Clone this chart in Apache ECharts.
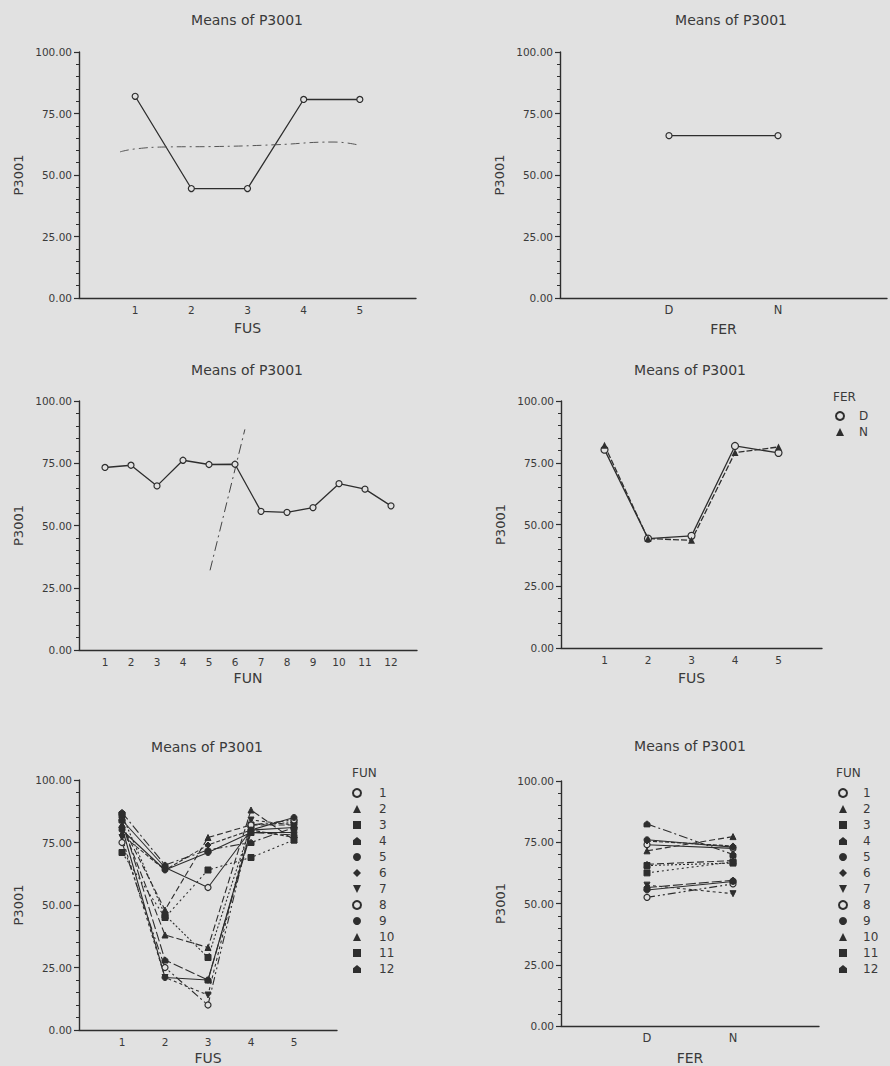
<!DOCTYPE html>
<html>
<head>
<meta charset="utf-8">
<title>Means of P3001</title>
<script src="https://cdn.jsdelivr.net/npm/echarts@6/dist/echarts.min.js"></script>
<style>
  html, body { margin: 0; padding: 0; background: #e1e1e1; }
  #chart { width: 890px; height: 1066px; }
</style>
</head>
<body>
<div id="chart"></div>
<script>
// ---- data ----
const fusLevels = [1, 2, 3, 4, 5];
const ferLevels = ['D', 'N'];
const funLevels = [1, 2, 3, 4, 5, 6, 7, 8, 9, 10, 11, 12];

// means of P3001 by FUS
const meansByFus = [82.0, 44.5, 44.5, 80.7, 80.7];
// means of P3001 by FER
const meansByFer = [66.0, 66.0];
// means of P3001 by FUN
const meansByFun = [73.3, 74.2, 65.9, 76.2, 74.5, 74.6, 55.7, 55.3, 57.2, 66.8, 64.6, 57.9];

// FUS x FER
const fusMeansFerD = [80.3, 44.3, 45.4, 81.8, 79.0];
const fusMeansFerN = [82.1, 44.3, 43.6, 79.1, 81.4];

// FUS x FUN (one row per FUN level, values at FUS 1..5)
const fusMeansByFun = [
  [84, 65, 57, 80, 81],
  [82, 48, 77, 82, 82],
  [86, 46, 29, 82, 83],
  [87, 66, 72, 75, 81],
  [80, 64, 71, 79, 79],
  [78, 64, 74, 80, 77],
  [77, 21, 14, 84, 82],
  [75, 25, 10, 82, 84],
  [81, 21, 20, 80, 85],
  [82, 38, 33, 88, 76],
  [71, 45, 64, 69, 76],
  [84, 28, 20, 79, 78]
];

// FER x FUN (one row per FUN level, values at D, N)
const ferMeansByFun = [
  [74.0, 72.5],
  [71.5, 77.3],
  [65.5, 66.5],
  [82.5, 70.0],
  [76.0, 73.0],
  [75.5, 73.5],
  [57.5, 54.0],
  [52.5, 58.0],
  [55.5, 59.0],
  [66.0, 67.5],
  [62.5, 67.0],
  [56.5, 59.5]
];

// hand-drawn strokes on the printed sheet: [x position, P3001]
const penStrokeTop = [[0.73, 59.4], [1.0, 60.6], [1.56, 61.4], [2.5, 61.6], [3.5, 62.3], [4.54, 63.4], [4.99, 62.1]];
const penStrokeMid = [[5.04, 32], [6.38, 88.6]];

// ---- styling ----
const BG = '#e1e1e1';
const INK = '#2e2e2e';
const TXT = '#3a3a3a';
const FONT = '"DejaVu Sans", sans-serif';

const funSymbols = [
  'circle', 'triangle', 'rect',
  'path://M5,0 L10,4 L10,10 L0,10 L0,4 Z',
  'circle', 'diamond',
  'path://M0,0 L10,0 L5,10 Z',
  'circle', 'circle', 'triangle', 'rect',
  'path://M5,0 L10,4 L10,10 L0,10 L0,4 Z'
];
const funOpen = [true, false, false, false, false, false, false, true, false, false, false, false];
const funDash = ['solid', [6, 3], [2, 2], [9, 3, 2, 3], 'solid', [4, 2], [3, 3], [8, 3, 2, 3, 2, 3], 'solid', [7, 3], [2, 3], [10, 3]];

const grids = [
  { left: 79, top: 52, width: 337, height: 246 },
  { left: 560, top: 52, width: 345, height: 246 },
  { left: 79, top: 401, width: 338, height: 249 },
  { left: 561, top: 401, width: 261, height: 247 },
  { left: 79, top: 780, width: 258, height: 252 },
  { left: 561, top: 781, width: 258, height: 247 }
];

function yAxisCfg(i) {
  return {
    gridIndex: i, type: 'value', min: 0, max: 100, interval: 25,
    name: 'P3001', nameLocation: 'middle', nameRotate: 90, nameGap: 54,
    nameTextStyle: { fontFamily: FONT, fontSize: 13, color: TXT },
    axisLine: { show: true, lineStyle: { color: INK, width: 1.4 } },
    axisTick: { show: true, length: 5, lineStyle: { color: INK, width: 1.2 } },
    minorTick: { show: true, splitNumber: 5, length: 3, lineStyle: { color: INK, width: 1 } },
    splitLine: { show: false },
    axisLabel: { margin: 7, fontFamily: FONT, fontSize: 10.5, color: TXT, formatter: v => v.toFixed(2) }
  };
}

function xAxisCfg(i, max, labelOf, name, gap, labelSize) {
  return {
    gridIndex: i, type: 'value', min: 0, max: max, interval: 1,
    name: name, nameLocation: 'middle', nameGap: gap,
    nameTextStyle: { fontFamily: FONT, fontSize: 14, color: TXT },
    axisLine: { show: true, onZero: false, lineStyle: { color: INK, width: 1.4 } },
    axisTick: { show: false },
    splitLine: { show: false },
    axisLabel: { margin: 6, fontFamily: FONT, fontSize: labelSize || 10.5, color: TXT, formatter: labelOf, showMinLabel: true, showMaxLabel: true }
  };
}

const numLabel = levels => v => (levels.indexOf(v) >= 0 ? String(v) : '');
const ferLabel = v => (v >= 1 && v <= ferLevels.length ? ferLevels[v - 1] : '');

function pairs(xs, ys) { return xs.map((x, k) => [x, ys[k]]); }

function openMarker() {
  return { color: BG, borderColor: INK, borderWidth: 1.2 };
}

const series = [];

// 1: by FUS
series.push({
  name: 'FUS', type: 'line', xAxisIndex: 0, yAxisIndex: 0,
  data: pairs(fusLevels, meansByFus), symbol: 'circle', symbolSize: 6,
  itemStyle: openMarker(), lineStyle: { color: INK, width: 1.3 }
});
series.push({
  name: 'stroke-a', type: 'line', xAxisIndex: 0, yAxisIndex: 0, smooth: true,
  data: penStrokeTop, symbol: 'none',
  lineStyle: { color: '#555', width: 1, type: [9, 4, 2, 4] }
});

// 2: by FER
series.push({
  name: 'FER', type: 'line', xAxisIndex: 1, yAxisIndex: 1,
  data: pairs([1, 2], meansByFer), symbol: 'circle', symbolSize: 6,
  itemStyle: openMarker(), lineStyle: { color: INK, width: 1.3 }
});

// 3: by FUN
series.push({
  name: 'FUN', type: 'line', xAxisIndex: 2, yAxisIndex: 2,
  data: pairs(funLevels, meansByFun), symbol: 'circle', symbolSize: 6,
  itemStyle: openMarker(), lineStyle: { color: INK, width: 1.3 }
});
series.push({
  name: 'stroke-b', type: 'line', xAxisIndex: 2, yAxisIndex: 2,
  data: penStrokeMid, symbol: 'none',
  lineStyle: { color: '#444', width: 1, type: [10, 4, 2, 4] }
});

// 4: FUS x FER
series.push({
  name: 'D', type: 'line', xAxisIndex: 3, yAxisIndex: 3,
  data: pairs(fusLevels, fusMeansFerD), symbol: 'circle', symbolSize: 7,
  itemStyle: openMarker(), lineStyle: { color: INK, width: 1.3 }
});
series.push({
  name: 'N', type: 'line', xAxisIndex: 3, yAxisIndex: 3,
  data: pairs(fusLevels, fusMeansFerN), symbol: 'triangle', symbolSize: 7,
  itemStyle: { color: INK }, lineStyle: { color: INK, width: 1.3, type: [6, 2] }
});

// 5: FUS x FUN, 6: FER x FUN
funLevels.forEach((f, k) => {
  const style = funOpen[k] ? openMarker() : { color: INK, borderColor: INK };
  series.push({
    name: String(f), type: 'line', xAxisIndex: 4, yAxisIndex: 4,
    data: pairs(fusLevels, fusMeansByFun[k]), symbol: funSymbols[k], symbolSize: 6,
    itemStyle: style, lineStyle: { color: INK, width: 1.1, type: funDash[k] }
  });
});
funLevels.forEach((f, k) => {
  const style = funOpen[k] ? openMarker() : { color: INK, borderColor: INK };
  series.push({
    name: String(f), type: 'line', xAxisIndex: 5, yAxisIndex: 5,
    data: pairs([1, 2], ferMeansByFun[k]), symbol: funSymbols[k], symbolSize: 6,
    itemStyle: style, lineStyle: { color: INK, width: 1.1, type: funDash[k] }
  });
});

function legendCfg(names, left, top, itemWidth) {
  return {
    orient: 'vertical', left: left, top: top, padding: 0, selectedMode: false,
    data: names, itemWidth: itemWidth, itemHeight: 10, itemGap: 4,
    lineStyle: { opacity: 0 },
    textStyle: { fontFamily: FONT, fontSize: 12, lineHeight: 12, color: TXT }
  };
}

function label(text, x, y, size, align) {
  return {
    type: 'text', x: x, y: y, silent: true,
    style: { text: text, fill: TXT, font: size + 'px ' + FONT, align: align || 'center', verticalAlign: 'middle' }
  };
}

const option = {
  backgroundColor: BG,
  animation: false,
  grid: grids,
  xAxis: [
    xAxisCfg(0, 6, numLabel(fusLevels), 'FUS', 23),
    xAxisCfg(1, 3, ferLabel, 'FER', 24, 11.5),
    xAxisCfg(2, 13, numLabel(funLevels), 'FUN', 21),
    xAxisCfg(3, 6, numLabel(fusLevels), 'FUS', 23),
    xAxisCfg(4, 6, numLabel(fusLevels), 'FUS', 21),
    xAxisCfg(5, 3, ferLabel, 'FER', 25, 11.5)
  ],
  yAxis: [0, 1, 2, 3, 4, 5].map(yAxisCfg),
  legend: [
    legendCfg(['D', 'N'], 825, 410, 28),
    legendCfg(funLevels.map(String), 339, 787, 34),
    legendCfg(funLevels.map(String), 827, 787, 30)
  ],
  graphic: [
    label('Means of P3001', 247, 20, 14),
    label('Means of P3001', 731, 20, 14),
    label('Means of P3001', 247, 370, 14),
    label('Means of P3001', 690, 370, 14),
    label('Means of P3001', 207, 747, 14),
    label('Means of P3001', 690, 746, 14),
    label('FER', 833, 397, 12, 'left'),
    label('FUN', 352, 773, 12, 'left'),
    label('FUN', 836, 773, 12, 'left')
  ],
  series: series
};

const chart = echarts.init(document.getElementById('chart'), null, { renderer: 'svg' });
chart.setOption(option);
</script>
</body>
</html>
